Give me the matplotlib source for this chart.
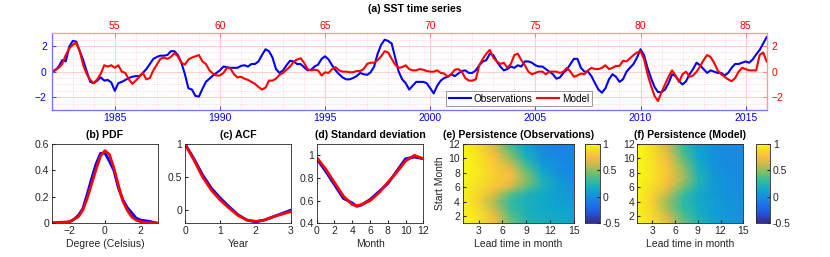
import numpy as np
import matplotlib
matplotlib.use("Agg")
import matplotlib.pyplot as plt
from matplotlib.colors import LinearSegmentedColormap

plt.rcParams['font.family'] = ['Liberation Sans', 'DejaVu Sans']

# ---- (a) SST time series, sampled every 2 months from Jan 1982 ----
months = np.arange(0, 410, 2)
obs_sst = [0.0, 0.1, 0.4, 0.9, 0.8, 1.95, 2.4, 2.35, 1.6, 0.9, 0.0, -0.8,
           -0.9, -0.7, -0.45, -0.7, -0.65, -0.85, -1.5, -0.9, -0.8, -0.65, -0.5, -0.4,
           -0.35, -0.35, -0.1, 0.2, 0.6, 1.0, 1.15, 1.25, 1.25, 1.3, 1.6, 1.6,
           1.3, 0.7, -0.2, -1.3, -1.4, -1.9, -1.95, -1.35, -0.8, -0.55, -0.3, -0.1,
           0.1, 0.4, 0.35, 0.3, 0.3, 0.3, 0.45, 0.5, 0.4, 0.6, 0.6, 0.8,
           1.3, 1.75, 1.6, 1.1, 0.2, -0.1, 0.1, 0.5, 0.85, 0.8, 0.6, 0.6,
           0.35, 0.1, 0.15, 0.4, 0.55, 1.0, 1.2, 0.95, 0.5, 0.1, -0.2, -0.45,
           -0.6, -0.6, -0.5, -0.35, -0.1, -0.2, -0.25, -0.05, 0.4, 1.4, 2.1, 2.5,
           2.4, 2.2, 1.1, 0.0, -0.6, -0.9, -1.4, -1.1, -0.8, -0.8, -0.8, -0.9,
           -1.3, -1.7, -1.1, -0.7, -0.5, -0.4, -0.2, -0.35, -0.15, 0.05, 0.1, -0.1,
           -0.1, 0.1, 0.5, 0.8, 0.9, 1.4, 1.3, 0.8, 0.4, 0.1, 0.2, 0.4,
           0.3, 0.5, 0.4, 0.8, 0.8, 0.7, 0.5, 0.4, 0.4, 0.2, 0.0, -0.2,
           -0.55, -0.45, -0.1, 0.15, 0.6, 1.0, 1.0, 0.3, 0.0, 0.0, -0.35, -0.9,
           -1.4, -1.65, -1.3, -0.6, -0.2, -0.4, -0.8, -0.6, 0.0, 0.3, 0.6, 1.1,
           1.75, 1.3, 0.3, -0.5, -1.2, -1.6, -1.6, -1.4, -0.9, -0.2, -0.35, -0.75,
           -1.0, -0.75, -0.2, 0.2, 0.7, 0.5, 0.2, -0.1, 0.1, 0.0, -0.1, -0.1,
           -0.3, -0.1, 0.3, 0.6, 0.6, 0.7, 0.8, 0.7, 0.95, 1.35, 1.7, 2.2, 2.7]
model_sst = [0.0, 0.15, 0.3, 0.6, 1.3, 1.8, 2.1, 2.25, 1.6, 0.5, -0.2, -0.65,
             -0.9, -0.6, -0.15, 0.5, 0.4, 0.5, 0.3, 0.5, 0.0, -0.1, -0.6, -0.95,
             -0.7, -0.4, -0.1, -0.6, -0.5, 0.1, 0.55, 1.0, 1.1, 1.0, 1.15, 1.45,
             1.2, 0.7, 0.55, 0.95, 1.1, 1.2, 1.3, 0.8, 0.6, 0.1, -0.15, -0.3,
             -0.3, -0.1, 0.3, 0.25, -0.2, -0.45, -0.4, -0.55, -0.65, -0.8, -0.95, -1.2,
             -1.4, -1.25, -0.7, -0.7, -0.55, -0.25, -0.1, 0.15, 0.4, 0.75, 0.95, 1.05,
             0.7, 0.2, 0.1, 0.15, 0.1, -0.3, -0.05, -0.1, 0.2, 0.35, 0.1, 0.0,
             0.0, -0.05, -0.05, 0.05, 0.05, 0.2, 0.6, 0.7, 0.7, 0.9, 1.2, 1.6,
             1.5, 1.0, 0.55, 0.3, 0.35, 0.5, 0.2, 0.1, 0.1, 0.2, 0.15, 0.05,
             0.0, 0.0, 0.1, -0.1, -0.15, -0.4, -0.2, 0.15, 0.2, 0.0, -0.5, -0.7,
             -0.7, -0.6, 0.5, 1.0, 1.4, 1.7, 1.1, 0.8, 0.6, 0.7, 0.3, 0.6,
             1.3, 1.4, 0.9, 0.5, 0.0, -0.2, -0.1, 0.0, 0.0, -0.2, 0.0, 0.0,
             0.0, -0.1, 0.0, 0.3, 0.0, -0.4, -0.3, -0.15, -0.2, 0.1, 0.3, 0.2,
             0.2, 0.3, 0.5, 0.2, 0.3, 0.45, 0.45, 0.85, 0.8, 1.05, 1.3, 1.5,
             1.6, 1.0, -0.2, -1.1, -1.9, -2.3, -1.6, -1.0, -0.4, 0.1, -0.3, -0.8,
             -0.2, 0.0, -0.4, -0.3, 0.0, 0.4, 0.9, 1.3, 1.15, 0.7, 0.1, -0.2,
             -0.4, -0.6, -0.75, -0.5, 0.0, 0.3, 0.2, 0.1, 0.1, 0.1, 1.3, 1.5, 0.8]
year_ticks = [1985, 1990, 1995, 2000, 2005, 2010, 2015]
model_year_ticks = [55, 60, 65, 70, 75, 80, 85]

# ---- (b) PDF ----
pdf_x = [-3, -2.5, -2, -1.75, -1.5, -1.25, -1, -0.75, -0.5, -0.25, 0, 0.25, 0.5,
         0.75, 1, 1.25, 1.5, 1.75, 2, 2.5, 3]
pdf_obs = [0.0, 0.003, 0.01, 0.03, 0.06, 0.11, 0.22, 0.34, 0.45, 0.53, 0.53, 0.47,
           0.40, 0.27, 0.18, 0.12, 0.08, 0.04, 0.025, 0.015, 0.0]
pdf_model = [0.005, 0.008, 0.012, 0.03, 0.05, 0.10, 0.19, 0.30, 0.41, 0.51, 0.55,
             0.52, 0.42, 0.29, 0.17, 0.10, 0.05, 0.025, 0.012, 0.005, 0.0]

# ---- (c) ACF ----
acf_lag = [0, 0.25, 0.5, 0.75, 1, 1.25, 1.5, 1.75, 2, 2.25, 2.5, 2.75, 3]
acf_obs = [1.0, 0.78, 0.53, 0.33, 0.18, 0.05, -0.07, -0.15, -0.18, -0.15, -0.10, -0.05, 0.0]
acf_model = [1.0, 0.76, 0.50, 0.30, 0.15, 0.03, -0.08, -0.15, -0.17, -0.15, -0.10, -0.06, -0.02]

# ---- (d) standard deviation by calendar month ----
std_month = [0, 1, 2, 3, 4, 4.5, 5, 6, 7, 8, 9, 10, 11, 12]
std_obs = [0.97, 0.86, 0.74, 0.62, 0.58, 0.55, 0.56, 0.61, 0.68, 0.75, 0.86, 0.97, 0.985, 0.97]
std_model = [0.98, 0.88, 0.76, 0.64, 0.565, 0.555, 0.565, 0.60, 0.67, 0.76, 0.85, 0.95, 1.0, 0.97]

# ---- (e),(f) persistence: rows = start month 1..12, cols = lead months ----
start_month = np.arange(1, 13)
lead = [1, 3, 5, 7, 9, 11, 13, 15]
pers_obs = [[0.98, 0.92, 0.74, 0.45, 0.25, 0.18, 0.15, 0.12],
            [0.98, 0.92, 0.72, 0.40, 0.22, 0.17, 0.15, 0.12],
            [0.97, 0.89, 0.62, 0.33, 0.20, 0.15, 0.12, 0.10],
            [0.96, 0.85, 0.56, 0.30, 0.20, 0.15, 0.10, 0.08],
            [0.96, 0.87, 0.66, 0.38, 0.22, 0.15, 0.08, 0.05],
            [0.97, 0.90, 0.80, 0.62, 0.40, 0.20, 0.08, 0.03],
            [0.98, 0.92, 0.84, 0.75, 0.50, 0.22, 0.05, 0.00],
            [0.98, 0.93, 0.84, 0.75, 0.45, 0.15, 0.02, -0.03],
            [0.99, 0.93, 0.82, 0.65, 0.35, 0.08, 0.00, -0.05],
            [0.99, 0.92, 0.78, 0.52, 0.22, 0.03, -0.03, -0.06],
            [0.99, 0.90, 0.72, 0.42, 0.15, 0.00, -0.05, -0.06],
            [0.98, 0.88, 0.64, 0.32, 0.10, -0.02, -0.05, -0.06]]
pers_model = [[0.98, 0.92, 0.72, 0.45, 0.25, 0.12, 0.06, 0.03],
              [0.98, 0.90, 0.64, 0.38, 0.20, 0.10, 0.05, 0.02],
              [0.97, 0.86, 0.56, 0.32, 0.18, 0.08, 0.04, 0.02],
              [0.97, 0.84, 0.53, 0.30, 0.16, 0.08, 0.03, 0.01],
              [0.97, 0.86, 0.60, 0.33, 0.16, 0.06, 0.02, 0.00],
              [0.98, 0.90, 0.72, 0.45, 0.20, 0.06, 0.01, 0.00],
              [0.98, 0.92, 0.78, 0.55, 0.25, 0.06, 0.00, -0.01],
              [0.99, 0.92, 0.80, 0.55, 0.22, 0.04, 0.00, -0.01],
              [0.99, 0.92, 0.78, 0.50, 0.18, 0.03, -0.01, -0.02],
              [0.99, 0.91, 0.74, 0.42, 0.14, 0.02, -0.01, -0.02],
              [0.99, 0.90, 0.68, 0.36, 0.12, 0.01, -0.02, -0.02],
              [0.99, 0.89, 0.64, 0.32, 0.10, 0.01, -0.02, -0.02]]

# parula-like colormap
parula = LinearSegmentedColormap.from_list("parula", [
    (0.00, (0.21, 0.17, 0.53)), (0.15, (0.12, 0.36, 0.90)),
    (0.30, (0.10, 0.52, 0.90)), (0.42, (0.05, 0.66, 0.80)),
    (0.55, (0.22, 0.74, 0.60)), (0.65, (0.50, 0.75, 0.40)),
    (0.75, (0.80, 0.73, 0.30)), (0.85, (0.99, 0.74, 0.24)),
    (0.93, (0.96, 0.86, 0.16)), (1.00, (0.98, 0.98, 0.08))])

BLUE = (0.0, 0.0, 1.0)
RED = (1.0, 0.0, 0.0)
GRAY = (0.15, 0.15, 0.15)
fs = 7.5
tfs = 7.6

fig = plt.figure(figsize=(8.3, 2.57), dpi=100)

# ------------ top panel ------------
ax = fig.add_axes([0.0623, 0.572, 0.8614, 0.2984])
t = 1982 + months / 12.0
ax.plot(t, obs_sst, color=BLUE, lw=1.5, label='Observations', zorder=3)
ax.plot(t, model_sst, color=RED, lw=1.5, label='Model', zorder=3)
ax.set_xlim(1982, 2016)
ax.set_ylim(-3, 3)
ax.set_xticks(year_ticks)
ax.set_xticks(np.arange(1983, 2016), minor=True)
ax.set_yticks([-2, 0, 2])
ax.set_yticks(np.arange(-3, 3.01, 0.5), minor=True)
ax.grid(which='major', color=(1, 0.8, 0.8), lw=0.7, ls='-')
ax.grid(which='minor', color=(1, 0.75, 0.75), lw=0.5, ls=':')
ax.tick_params(axis='both', which='both', direction='in', labelsize=fs,
               colors=(0.3, 0.3, 1.0), labelcolor=BLUE, length=3)
ax.tick_params(which='minor', length=0)
for s in ['left', 'bottom']:
    ax.spines[s].set_color((0.45, 0.45, 1.0))
for s in ['top', 'right']:
    ax.spines[s].set_color((1.0, 0.6, 0.6))
ax.tick_params(axis='x', pad=2)

axt = ax.twiny()
axt.set_xlim(52, 86)
axt.set_xticks(model_year_ticks)
axt.tick_params(direction='in', labelsize=fs, colors=(1, 0.5, 0.5), labelcolor=RED, length=3, pad=2)
axr = ax.twinx()
axr.set_ylim(-3, 3)
axr.set_yticks([-2, 0, 2])
axr.tick_params(direction='in', labelsize=fs, colors=(1, 0.5, 0.5), labelcolor=RED, length=3)
for a in (axt, axr):
    for s in ['left', 'bottom']:
        a.spines[s].set_color((0.45, 0.45, 1.0))
    for s in ['top', 'right']:
        a.spines[s].set_color((1.0, 0.6, 0.6))

leg = axr.legend(*ax.get_legend_handles_labels(), loc='lower left',
                 bbox_to_anchor=(0.549, 0.02), ncol=2, fontsize=7.2,
                 frameon=True, fancybox=False, handlelength=2.2,
                 borderpad=0.25, columnspacing=0.5, handletextpad=0.3,
                 borderaxespad=0.2)
leg.get_frame().set_edgecolor((0.5, 0.5, 0.5))
leg.get_frame().set_linewidth(0.7)

fig.text(0.5, 0.965, '(a) SST time series', ha='center', va='center',
         fontsize=tfs, fontweight='bold', color='black')


def style(a):
    for s in a.spines.values():
        s.set_color(GRAY)
        s.set_linewidth(0.6)
    a.tick_params(direction='in', labelsize=fs, colors=GRAY, length=2.5, pad=2)


bot, h = 0.131, 0.3086
tpad = 4.5

# (b) PDF
axb = fig.add_axes([0.0623, bot, 0.1284, h])
axb.plot(pdf_x, pdf_obs, color=BLUE, lw=2)
axb.plot(pdf_x, pdf_model, color=RED, lw=2)
axb.set_xlim(-3, 3)
axb.set_ylim(0, 0.6)
axb.set_xticks([-2, 0, 2])
axb.set_yticks([0, 0.2, 0.4, 0.6])
axb.set_yticklabels(['0', '0.2', '0.4', '0.6'])
axb.set_xlabel('Degree (Celsius)', fontsize=fs, color=GRAY, labelpad=2)
axb.set_title('(b) PDF', fontsize=tfs, fontweight='bold', pad=tpad)
style(axb)

# (c) ACF
axc = fig.add_axes([0.2229, bot, 0.1277, h])
axc.plot(acf_lag, acf_obs, color=BLUE, lw=2)
axc.plot(acf_lag, acf_model, color=RED, lw=2)
axc.set_xlim(0, 3)
axc.set_ylim(-0.2, 1)
axc.set_xticks([0, 1, 2, 3])
axc.set_yticks([0, 0.5, 1])
axc.set_yticklabels(['0', '0.5', '1'])
axc.set_xlabel('Year', fontsize=fs, color=GRAY, labelpad=2)
axc.set_title('(c) ACF', fontsize=tfs, fontweight='bold', pad=tpad)
style(axc)

# (d) standard deviation
axd = fig.add_axes([0.3816, bot, 0.1284, h])
axd.plot(std_month, std_obs, color=BLUE, lw=2)
axd.plot(std_month, std_model, color=RED, lw=2)
axd.set_xlim(0, 12)
axd.set_ylim(0.4, 1.1)
axd.set_xticks(range(0, 13, 2))
axd.set_yticks([0.4, 0.6, 0.8, 1.0])
axd.set_yticklabels(['0.4', '0.6', '0.8', '1'])
axd.set_xlabel('Month', fontsize=fs, color=GRAY, labelpad=2)
axd.set_title('(d) Standard deviation', fontsize=tfs, fontweight='bold', pad=tpad)
style(axd)

# (e), (f) persistence maps
panels = [([0.5575, bot, 0.1341, h], [0.7048, bot, 0.018, h], pers_obs,
           '(e) Persistence (Observations)', True),
          ([0.7678, bot, 0.1277, h], [0.9105, bot, 0.0172, h], pers_model,
           '(f) Persistence (Model)', False)]
for pos, cpos, data, title, ylab in panels:
    axp = fig.add_axes(pos)
    im = axp.pcolormesh(lead, start_month, np.array(data), shading='gouraud',
                        cmap=parula, vmin=-0.5, vmax=1)
    axp.set_xlim(1, 15)
    axp.set_ylim(1, 12)
    axp.set_xticks([3, 6, 9, 12, 15])
    axp.set_yticks(range(2, 13, 2))
    axp.set_xlabel('Lead time in month', fontsize=fs, color=GRAY, labelpad=2)
    if ylab:
        axp.set_ylabel('Start Month', fontsize=fs, color=GRAY, labelpad=2)
    axp.set_title(title, fontsize=tfs, fontweight='bold', pad=tpad)
    style(axp)
    cax = fig.add_axes(cpos)
    cb = fig.colorbar(im, cax=cax, ticks=[-0.5, 0, 0.5, 1])
    cb.ax.set_yticklabels(['-0.5', '0', '0.5', '1'])
    cb.outline.set_edgecolor(GRAY)
    cb.outline.set_linewidth(0.6)
    cb.ax.tick_params(direction='in', labelsize=fs, colors=GRAY, length=2.5, pad=2)

fig.savefig('out.png', dpi=100)
